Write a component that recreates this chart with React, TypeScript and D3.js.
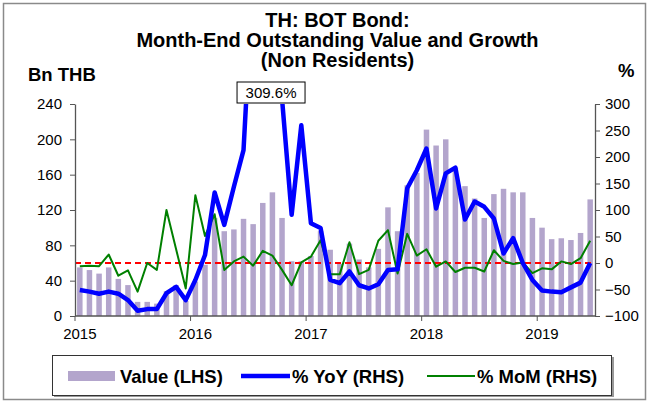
import React, { useEffect, useRef } from "react";
import * as d3 from "d3";

const months = d3.range(54);
const valueLHS = [55, 52, 48, 55, 42, 35, 16, 16, 14, 28, 35, 17,
  39, 58, 111, 96, 98, 110, 104, 128, 140, 111, 62, 62,
  68, 96, 75, 59, 82, 64, 55, 76, 123, 96, 148, 162,
  211, 193, 200, 168, 147, 133, 111, 138, 144, 140, 140, 111,
  100, 87, 88, 86, 94, 132];
const yoyRHS = [-51, -54, -58, -54, -58, -70, -90, -87, -87, -57, -45, -70,
  -32, 15, 133, 72, 144, 213, 550, 700, 900, 309.6, 91, 260,
  75, 66, -32, -38, -16, -42, -48, -40, -13, -12, 141, 175,
  216, 103, 169, 180, 82, 116, 106, 84, 18, 47, 0, -32,
  -52, -54, -55, -46, -37, 0];
const momRHS = [-6, -5, -6, 16, -24, -14, -54, 0, -13, 100, 26, -48,
  128, 51, 92, -13, 3, 12, -5, 23, 14, -13, -42, 1,
  12, 43, -21, -21, 39, -21, -13, 42, 62, -20, 55, 14,
  26, -7, 3, -17, -9, -9, -16, 24, 4, -2, 1, -19,
  -10, -12, 3, -2, 9, 42];
const leftTicks = [0, 40, 80, 120, 160, 200, 240];
const rightTicks = [-100, -50, 0, 50, 100, 150, 200, 250, 300];
const yearLabels = ["2015", "2016", "2017", "2018", "2019"];
const titleLines = ["TH: BOT Bond:", "Month-End Outstanding Value and Growth", "(Non Residents)"];
const annotationIndex = 21;

const FONT = "'Liberation Sans', Arial, sans-serif";

export default function App() {
  const ref = useRef<SVGSVGElement>(null);
  useEffect(() => {
    const svg = d3.select(ref.current);
    svg.selectAll("*").remove();
    const W = 649, H = 402;
    const L = 75, R = 595, T = 104, B = 316;

    const x = d3.scaleBand<number>().domain(months).range([L, R]).paddingInner(0.43).paddingOuter(0.215);
    const step = x.step();
    const xc = (i: number) => (x(i) as number) + x.bandwidth() / 2;
    const yL = d3.scaleLinear().domain([0, 240]).range([B, T]);
    const yR = d3.scaleLinear().domain([-100, 300]).range([B, T]);

    svg.append("rect").attr("x", 3.5).attr("y", 3.5).attr("width", W - 7).attr("height", H - 6)
      .attr("fill", "white").attr("stroke", "#8a8a8a").attr("stroke-width", 1.5);

    // title
    titleLines.forEach((t, i) => {
      svg.append("text").attr("text-anchor", "middle").attr("font-family", FONT)
        .attr("font-weight", "bold").attr("font-size", 20).attr("fill", "#000")
        .attr("x", 337.5).attr("y", 26.6 + i * 20.2).text(t);
    });

    svg.append("text").attr("x", 28).attr("y", 81).attr("font-family", FONT).attr("font-weight", "bold")
      .attr("font-size", 18.5).text("Bn THB");
    svg.append("text").attr("x", 618).attr("y", 77).attr("font-family", FONT).attr("font-weight", "bold")
      .attr("font-size", 18.5).text("%");

    svg.append("defs").append("clipPath").attr("id", "plotclip")
      .append("rect").attr("x", L).attr("y", T).attr("width", R - L).attr("height", B - T);

    // bars
    svg.append("g").selectAll("rect").data(valueLHS).join("rect")
      .attr("x", (_, i) => x(i) as number).attr("width", x.bandwidth())
      .attr("y", (d) => yL(d)).attr("height", (d) => B - yL(d))
      .attr("fill", "#b3a5cc");

    // zero line
    svg.append("line").attr("x1", L).attr("x2", R).attr("y1", yR(0)).attr("y2", yR(0))
      .attr("stroke", "#ff0000").attr("stroke-width", 2).attr("stroke-dasharray", "6,4");

    const g = svg.append("g").attr("clip-path", "url(#plotclip)");
    const line = d3.line<number>().x((_, i) => xc(i)).y((d) => yR(d));
    g.append("path").datum(momRHS).attr("d", line).attr("fill", "none")
      .attr("stroke", "#008000").attr("stroke-width", 2).attr("stroke-linejoin", "round");
    g.append("path").datum(yoyRHS).attr("d", line).attr("fill", "none")
      .attr("stroke", "#0000ff").attr("stroke-width", 4.5).attr("stroke-linejoin", "round");

    // axes
    const axL = svg.append("g").attr("transform", `translate(${L},0)`)
      .call(d3.axisLeft(yL).tickValues(leftTicks).tickSize(5).tickPadding(8).tickSizeOuter(0));
    const axR = svg.append("g").attr("transform", `translate(${R},0)`)
      .call(d3.axisRight(yR).tickValues(rightTicks).tickSize(5).tickPadding(5).tickSizeOuter(0));
    [axL, axR].forEach((a) => {
      a.selectAll("text").attr("font-family", FONT).attr("font-size", 15).attr("fill", "#000");
      a.selectAll("line").attr("stroke", "#555");
      a.select(".domain").attr("stroke", "#555").attr("stroke-width", 1.3);
    });
    const axB = svg.append("g");
    axB.append("line").attr("x1", L).attr("x2", R).attr("y1", B).attr("y2", B)
      .attr("stroke", "#555").attr("stroke-width", 1.3);
    yearLabels.forEach((lab, k) => {
      const i = k * 12;
      const xt = L + step * i;
      axB.append("line").attr("x1", xt).attr("x2", xt).attr("y1", B).attr("y2", B + 5)
        .attr("stroke", "#555");
      axB.append("text").attr("x", xc(i)).attr("y", B + 23).attr("text-anchor", "middle")
        .attr("font-family", FONT).attr("font-size", 15).text(lab);
    });

    // annotation
    const ax = xc(annotationIndex) - 11;
    svg.append("rect").attr("x", ax - 34).attr("y", 82).attr("width", 68).attr("height", 21)
      .attr("fill", "white").attr("stroke", "#000").attr("stroke-width", 1);
    svg.append("text").attr("x", ax).attr("y", 98).attr("text-anchor", "middle")
      .attr("font-family", FONT).attr("font-size", 15).text(`${yoyRHS[annotationIndex]}%`);

    // legend
    const lg = svg.append("g");
    lg.append("rect").attr("x", 54).attr("y", 357).attr("width", 560).attr("height", 40).attr("fill", "#999");
    lg.append("rect").attr("x", 52.5).attr("y", 355.5).attr("width", 559).attr("height", 40)
      .attr("fill", "white").attr("stroke", "#333").attr("stroke-width", 1);
    lg.append("rect").attr("x", 68).attr("y", 371).attr("width", 47).attr("height", 10).attr("fill", "#b3a5cc");
    lg.append("line").attr("x1", 241).attr("x2", 290).attr("y1", 376).attr("y2", 376)
      .attr("stroke", "#0000ff").attr("stroke-width", 4.5);
    lg.append("line").attr("x1", 427).attr("x2", 475).attr("y1", 376).attr("y2", 376)
      .attr("stroke", "#008000").attr("stroke-width", 2);
    const items: [number, string][] = [[120, "Value (LHS)"], [292, "% YoY (RHS)"], [477, "% MoM (RHS)"]];
    items.forEach(([lx, t]) => {
      lg.append("text").attr("x", lx).attr("y", 382.5).attr("font-family", FONT).attr("font-weight", "bold")
        .attr("font-size", 18.5).text(t);
    });
  }, []);
  return <svg ref={ref} width={649} height={402} style={{ position: "absolute", left: 0, top: 0 }} />;
}
